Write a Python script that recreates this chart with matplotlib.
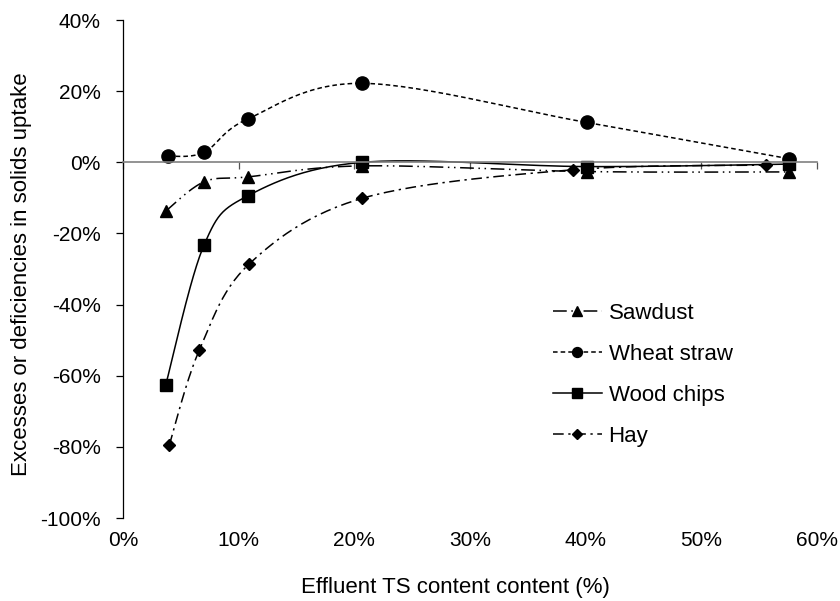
import numpy as np
import matplotlib
matplotlib.use("Agg")
import matplotlib.pyplot as plt
from matplotlib.ticker import PercentFormatter

plt.rcParams['font.family'] = ['Liberation Sans', 'DejaVu Sans']
plt.rcParams['axes.unicode_minus'] = False

# values in percent
saw_x = [3.7, 7.0, 10.8, 20.7, 40.1, 57.6]
saw_y = [-13.7, -5.5, -4.1, -1.0, -2.6, -2.7]
wheat_x = [3.9, 7.0, 10.8, 20.7, 40.1, 57.6]
wheat_y = [1.7, 2.8, 12.2, 22.2, 11.2, 1.0]
wood_x = [3.7, 7.0, 10.8, 20.7, 40.1, 57.6]
wood_y = [-62.5, -23.3, -9.4, 0.0, -1.2, -0.5]
hay_x = [4.0, 6.6, 10.9, 20.7, 38.9, 55.6]
hay_y = [-79.5, -52.8, -28.6, -10.1, -2.1, -0.8]

names = ["Sawdust", "Wheat straw", "Wood chips", "Hay"]


def smooth(xs, ys, n=30):
    # Excel style smoothed line (Bezier through points), done in pixel-like units
    sx, sy = 11.58, 3.557
    p = np.column_stack([np.array(xs) * sx, np.array(ys) * sy])
    out = [p[0]]
    for i in range(len(p) - 1):
        p0 = p[i - 1] if i > 0 else p[i]
        p3 = p[i + 2] if i + 2 < len(p) else p[i + 1]
        c1 = p[i] + (p[i + 1] - p0) / 6
        c2 = p[i + 1] - (p3 - p[i]) / 6
        t = np.linspace(0, 1, n)[1:, None]
        seg = ((1 - t) ** 3) * p[i] + 3 * ((1 - t) ** 2) * t * c1 + 3 * (1 - t) * t ** 2 * c2 + t ** 3 * p[i + 1]
        out.extend(seg)
    out = np.array(out)
    return out[:, 0] / sx, out[:, 1] / sy


fig = plt.figure(figsize=(8.4, 6.01), dpi=100)
ax = fig.add_axes([0.1464, 0.138, 0.8262, 0.8287])

series = [
    (saw_x, saw_y, "^", 9, (0, (9, 3, 1, 3, 1, 3))),
    (wheat_x, wheat_y, "o", 9.5, (0, (3, 2))),
    (wood_x, wood_y, "s", 9, "-"),
    (hay_x, hay_y, "D", 6.5, (0, (7, 3, 1.5, 3))),
]
handles = []
for (xs, ys, m, ms, ls), name in zip(series, names):
    lx, ly = smooth(xs, ys)
    ax.plot(lx, ly, color="black", linestyle=ls, linewidth=1.1)
    ax.plot(xs, ys, linestyle="none", marker=m, markersize=ms, color="black")
    h, = ax.plot([], [], color="black", linestyle=ls, linewidth=1.1,
                 marker=m, markersize=ms * 0.75, label=name)
    handles.append(h)

ax.set_xlim(0, 60)
ax.set_ylim(-100, 40)
ax.set_xticks(np.arange(0, 61, 10))
ax.set_yticks(np.arange(-100, 41, 20))
ax.yaxis.set_major_formatter(PercentFormatter(decimals=0))

for s in ["top", "right"]:
    ax.spines[s].set_visible(False)
ax.spines["left"].set_linewidth(0.9)
# horizontal axis line sits at y = 0
ax.spines["bottom"].set_position(("data", 0))
ax.spines["bottom"].set_color("#808080")
ax.spines["bottom"].set_linewidth(1.2)
ax.tick_params(axis="x", direction="out", length=5, width=0.9, colors="#555555", labelbottom=False)
ax.tick_params(axis="y", length=5, width=0.9, pad=11, labelsize=15)

# x tick labels along the bottom of the plot area
sec = ax.secondary_xaxis("bottom")
sec.spines["bottom"].set_visible(False)
sec.set_xticks(np.arange(0, 61, 10))
sec.xaxis.set_major_formatter(PercentFormatter(decimals=0))
sec.tick_params(axis="x", length=0, pad=9, labelsize=15)

fig.text(455 / 840, 1 - 577 / 601, "Effluent TS content content (%)", fontsize=16,
         ha="center", va="top")
ax.set_ylabel("Excesses or deficiencies in solids uptake", fontsize=16)
ax.yaxis.set_label_coords(-0.131, 0.489)

ax.legend(handles=handles, loc="upper left", bbox_to_anchor=(553 / 840, 1 - 303 / 601),
          bbox_transform=fig.transFigure, borderpad=0, borderaxespad=0,
          frameon=False, fontsize=16, handlelength=2.2, handletextpad=0.3,
          labelspacing=0.9)

fig.savefig("out.png", dpi=100)
